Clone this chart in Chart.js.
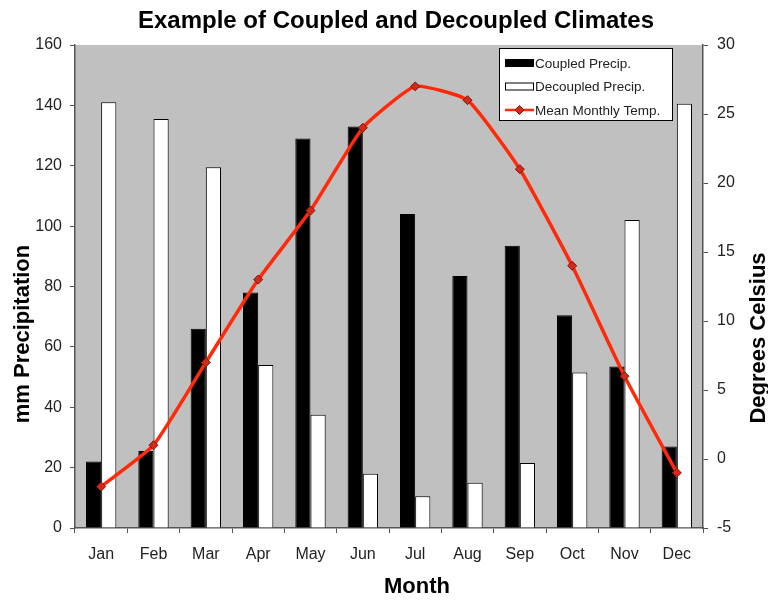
<!DOCTYPE html>
<html>
<head>
<meta charset="utf-8">
<script src="https://cdn.jsdelivr.net/npm/chart.js@4"></script>
<style>
  html, body { margin: 0; padding: 0; background: #fff; }
  #wrap { width: 768px; height: 601px; position: relative; }
</style>
</head>
<body>
<div id="wrap"><canvas id="climateChart"></canvas></div>
<script>
const months = ['Jan', 'Feb', 'Mar', 'Apr', 'May', 'Jun', 'Jul', 'Aug', 'Sep', 'Oct', 'Nov', 'Dec'];
const coupledPrecip = [22, 25.5, 66, 78, 129, 133, 104, 83.5, 93.5, 70.5, 53.5, 27];
const decoupledPrecip = [141, 135.5, 119.5, 54, 37.5, 18, 10.5, 15, 21.5, 51.5, 102, 140.5];
const meanTemp = [-2, 1, 7, 13, 18, 24, 27, 26, 21, 14, 6, -1];

const chartTitle = 'Example of Coupled and Decoupled Climates';
const xTitle = 'Month';
const yTitle = 'mm Precipitation';
const y1Title = 'Degrees Celsius';

const FONT = '"Liberation Sans", Arial, sans-serif';

// grey plot area like the old Excel default
const plotBg = {
    id: 'plotBg',
    beforeDraw(chart) {
        const a = chart.chartArea, c = chart.ctx;
        c.save();
        c.fillStyle = '#c0c0c0';
        c.fillRect(a.left, a.top, a.right - a.left, a.bottom - a.top);
        c.restore();
    }
};

// titles drawn by hand so the right one reads bottom-to-top
const titles = {
    id: 'titles',
    afterDraw(chart) {
        const c = chart.ctx;
        c.save();
        c.fillStyle = '#000';
        c.textAlign = 'center';
        c.textBaseline = 'middle';
        c.font = 'bold 24px ' + FONT;
        c.fillText(chartTitle, 396, 21);
        c.font = 'bold 22px ' + FONT;
        c.fillText(xTitle, 417, 587);
        c.translate(23, 334);
        c.rotate(-Math.PI / 2);
        c.fillText(yTitle, 0, 0);
        c.restore();
        c.save();
        c.fillStyle = '#000';
        c.textAlign = 'center';
        c.textBaseline = 'middle';
        c.font = 'bold 22px ' + FONT;
        c.translate(759, 338);
        c.rotate(-Math.PI / 2);
        c.fillText(y1Title, 0, 0);
        c.restore();
    }
};

// legend box drawn inside the plot, top right
const boxLegend = {
    id: 'boxLegend',
    afterDraw(chart) {
        const c = chart.ctx;
        const x = 499, y = 48, w = 173, h = 72;
        c.save();
        c.fillStyle = '#fff';
        c.fillRect(x, y, w, h);
        c.strokeStyle = '#000';
        c.lineWidth = 1;
        c.strokeRect(x + 0.5, y + 0.5, w, h);
        c.font = '13.5px ' + FONT;
        c.textBaseline = 'middle';
        chart.data.datasets.forEach((ds, i) => {
            const cy = y + 15 + i * 23.5;
            const sx = x + 6;
            if (ds.type === 'line') {
                c.strokeStyle = ds.borderColor;
                c.lineWidth = 2.5;
                c.beginPath();
                c.moveTo(sx, cy);
                c.lineTo(sx + 29, cy);
                c.stroke();
                c.fillStyle = ds.pointBackgroundColor;
                c.strokeStyle = ds.pointBorderColor;
                c.lineWidth = 1;
                c.beginPath();
                c.moveTo(sx + 14.5, cy - 4.5);
                c.lineTo(sx + 19, cy);
                c.lineTo(sx + 14.5, cy + 4.5);
                c.lineTo(sx + 10, cy);
                c.closePath();
                c.fill();
                c.stroke();
            } else {
                c.fillStyle = ds.backgroundColor;
                c.fillRect(sx, cy - 4, 29, 8);
                c.strokeStyle = '#000';
                c.lineWidth = 1;
                c.strokeRect(sx + 0.5, cy - 4 + 0.5, 28, 7);
            }
            c.fillStyle = '#222';
            c.fillText(ds.label, sx + 30, cy + 1);
        });
        c.restore();
    }
};

const ctx = document.getElementById('climateChart').getContext('2d');
const climateChart = new Chart(ctx, {
    type: 'bar',
    data: {
        labels: months,
        datasets: [
            {
                label: 'Coupled Precip.',
                data: coupledPrecip,
                backgroundColor: '#000',
                borderColor: '#000',
                borderWidth: 1,
                yAxisID: 'y',
                order: 2,
            },
            {
                label: 'Decoupled Precip.',
                data: decoupledPrecip,
                backgroundColor: '#fff',
                borderColor: '#000',
                borderWidth: 1,
                yAxisID: 'y',
                order: 2,
            },
            {
                label: 'Mean Monthly Temp.',
                data: meanTemp,
                type: 'line',
                borderColor: '#ff2a0a',
                borderWidth: 3.5,
                tension: 0.15,
                pointStyle: 'rectRot',
                pointRadius: 4.5,
                pointBackgroundColor: '#d42a1a',
                pointBorderColor: '#7a1a10',
                pointBorderWidth: 1,
                yAxisID: 'y1',
                order: 1,
            }
        ]
    },
    options: {
        responsive: true,
        maintainAspectRatio: false,
        animation: false,
        datasets: {
            bar: {
                categoryPercentage: 0.58,
                barPercentage: 1.0,
            }
        },
        layout: {
            padding: { left: 0, right: 0, top: 45, bottom: 0 }
        },
        scales: {
            x: {
                afterFit: (s) => { s.height = 73; },
                grid: {
                    drawOnChartArea: false,
                    tickLength: 5,
                    color: '#555',
                },
                border: { color: '#555', width: 1.5 },
                ticks: {
                    color: '#222',
                    font: { family: FONT, size: 16 },
                    padding: 12,
                },
            },
            y: {
                type: 'linear',
                position: 'left',
                min: 0,
                max: 160,
                afterFit: (s) => { s.width = 75; },
                ticks: {
                    stepSize: 20,
                    color: '#222',
                    font: { family: FONT, size: 16 },
                    padding: 8,
                },
                grid: {
                    drawOnChartArea: false,
                    tickLength: 5,
                    color: '#555',
                },
                border: { color: '#555', width: 1.5 },
            },
            y1: {
                type: 'linear',
                position: 'right',
                min: -5,
                max: 30,
                afterFit: (s) => { s.width = 65; },
                ticks: {
                    stepSize: 5,
                    color: '#222',
                    font: { family: FONT, size: 16 },
                    padding: 9,
                },
                grid: {
                    drawOnChartArea: false,
                    tickLength: 5,
                    color: '#555',
                },
                border: { color: '#555', width: 1.5 },
            }
        },
        plugins: {
            legend: { display: false },
            tooltip: { enabled: false },
        },
    },
    plugins: [plotBg, titles, boxLegend]
});
</script>
</body>
</html>
